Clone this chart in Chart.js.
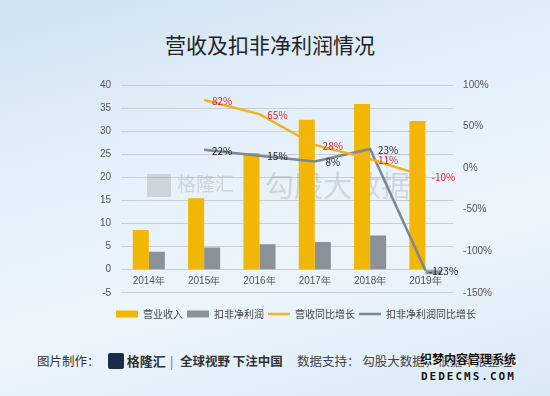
<!DOCTYPE html>
<html>
<head>
<meta charset="utf-8">
<script src="https://cdn.jsdelivr.net/npm/chart.js@4.4.1/dist/chart.umd.min.js"></script>
<style>
body { margin: 0; }
#wrap {
    position: relative; width: 550px; height: 396px; overflow: hidden;
    background: linear-gradient(165deg, #cfe2f2 0%, #e4f0fa 35%, #edf5fc 65%, #d9e9f6 100%);
    font-family: "Noto Sans CJK SC", sans-serif;
}
#chart { position: absolute; left: 0; top: 0; }
.title { position: absolute; left: 0; width: 540px; top: 30px; text-align: center; font-size: 21px; color: #222; line-height: 28px; }
.foot { position: absolute; top: 352px; font-size: 12.5px; color: #333; white-space: nowrap; line-height: 18px; }
.logo { display: inline-block; width: 16px; height: 16px; background: #1d2b4a; vertical-align: -3px; border-radius: 2px; }
.dede { position: absolute; left: 420px; top: 351px; font-weight: bold; color: #111; font-size: 12px; line-height: 16px;
        text-shadow: 0 0 2px #fff, 0 0 2px #fff; white-space: nowrap; }
.dede2 { position: absolute; left: 421px; top: 370px; font-weight: bold; color: #111; font-size: 11px; letter-spacing: 2px;
         font-family: "DejaVu Sans Mono", monospace; text-shadow: 0 0 2px #fff; white-space: nowrap; }
</style>
</head>
<body>
<div id="wrap">
    <div class="title">营收及扣非净利润情况</div>
    <canvas id="chart" width="550" height="335"></canvas>
    <div class="foot" style="left:37px">图片制作：</div>
    <div class="foot" style="left:108px"><span class="logo"></span> <b style="font-size:13px">格隆汇</b></div>
    <div class="foot" style="left:170px;color:#666">|</div>
    <div class="foot" style="left:180px;font-weight:bold">全球视野 下注中国</div>
    <div class="foot" style="left:297px;color:#444">数据支持： 勾股大数据，根据年报整理</div>
    <div class="dede">织梦内容管理系统</div>
    <div class="dede2">DEDECMS.COM</div>
</div>
<script>
const years = ['2014年', '2015年', '2016年', '2017年', '2018年', '2019年']
const revenue = [8.6, 15.5, 25.3, 32.5, 35.9, 32.2]
const profit = [3.9, 4.8, 5.5, 6.0, 7.4, -1.0]
const revenueGrowth = [null, 82, 65, 28, 11, -10]
const profitGrowth = [null, 22, 15, 8, 23, -123]

const gold = '#f2b705'
const grey = '#8a9199'
const lineGold = '#f4b223'
const lineGrey = '#7d8792'

// percent labels next to the line points
const pointLabels = {
    id: 'pointLabels',
    afterDatasetsDraw(chart) {
        const ctx = chart.ctx
        ctx.save()
        ctx.font = '10px "Noto Sans CJK SC", sans-serif'
        ctx.textAlign = 'center'
        ctx.textBaseline = 'middle'
        chart.data.datasets.forEach((ds, i) => {
            if (ds.type !== 'line') return
            const meta = chart.getDatasetMeta(i)
            meta.data.forEach((pt, j) => {
                const v = ds.data[j]
                if (v === null) return
                ctx.fillStyle = ds.labelColor
                ctx.fillText(v + '%', pt.x + 18, pt.y + 1)
            })
        })
        ctx.restore()
    }
}

// faint watermark behind the bars
const watermark = {
    id: 'watermark',
    beforeDatasetsDraw(chart) {
        const ctx = chart.ctx
        ctx.save()
        ctx.fillStyle = 'rgba(140,140,140,0.28)'
        ctx.textBaseline = 'middle'
        ctx.fillRect(147, 174, 24, 23)
        ctx.font = '19px "Noto Sans CJK SC", sans-serif'
        ctx.fillText('格隆汇', 177, 184)
        ctx.font = '29px "Noto Sans CJK SC", sans-serif'
        ctx.fillText('勾股大数据', 265, 186)
        ctx.restore()
    }
}

new Chart('chart', {
    data: {
        labels: years,
        datasets: [
            {type: 'bar', label: '营业收入', data: revenue, backgroundColor: gold, yAxisID: 'y', order: 2,
                categoryPercentage: 0.58, barPercentage: 1, pointStyle: 'rect'},
            {type: 'bar', label: '扣非净利润', data: profit, backgroundColor: grey, yAxisID: 'y', order: 2,
                categoryPercentage: 0.58, barPercentage: 1, pointStyle: 'rect'},
            {type: 'line', label: '营收同比增长', data: revenueGrowth, borderColor: lineGold, backgroundColor: lineGold,
                borderWidth: 2.5, pointRadius: 0, pointStyle: 'line', yAxisID: 'y1', order: 1, labelColor: '#e0262b'},
            {type: 'line', label: '扣非净利润同比增长', data: profitGrowth, borderColor: lineGrey, backgroundColor: lineGrey,
                borderWidth: 2.5, pointRadius: 0, pointStyle: 'line', yAxisID: 'y1', order: 1, labelColor: '#222'}
        ]
    },
    options: {
        responsive: false,
        animation: false,
        layout: {padding: {left: 90, right: 48, top: 85, bottom: 6}},
        scales: {
            x: {
                position: {y: 0},
                grid: {display: false, drawTicks: false},
                border: {display: false},
                ticks: {color: '#555', font: {size: 10}, padding: 6}
            },
            y: {
                position: 'left', min: -5, max: 40,
                ticks: {stepSize: 5, color: '#555', font: {size: 10}, padding: 10},
                grid: {color: '#c9ced3', drawTicks: false},
                border: {display: false}
            },
            y1: {
                position: 'right', min: -150, max: 100,
                ticks: {stepSize: 50, color: '#555', font: {size: 10}, padding: 10, callback: v => v + '%'},
                grid: {display: false, drawTicks: false},
                border: {display: false}
            }
        },
        plugins: {
            title: {display: false},
            legend: {
                position: 'bottom',
                title: {display: true, text: '', font: {size: 1}, padding: {top: 7, bottom: 4}},
                labels: {
                    usePointStyle: true, pointStyleWidth: 22, boxHeight: 7, color: '#444',
                    font: {size: 10, family: '"Noto Sans CJK SC", sans-serif'}, padding: 4,
                    sort: (a, b) => a.datasetIndex - b.datasetIndex
                }
            },
            tooltip: {enabled: false}
        }
    },
    plugins: [pointLabels, watermark]
})
</script>
</body>
</html>
